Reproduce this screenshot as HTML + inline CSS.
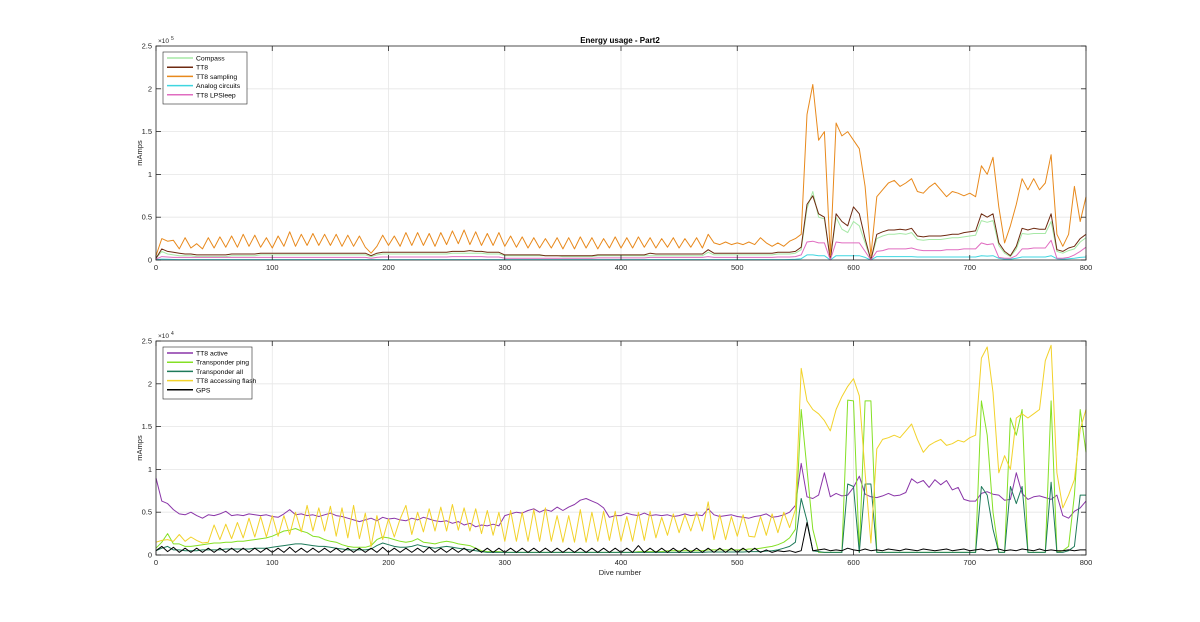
<!DOCTYPE html>
<html><head><meta charset="utf-8">
<style>
html,body{margin:0;padding:0;background:#fff;}
svg{display:block;font-family:"Liberation Sans",Arial,sans-serif;}
</style></head>
<body>
<svg id="fig" width="1200" height="622" viewBox="0 0 1200 622" xmlns="http://www.w3.org/2000/svg">
<rect x="0" y="0" width="1200" height="622" fill="#ffffff"/>
<text x="620" y="43" text-anchor="middle" font-size="8" font-weight="bold" fill="#000">Energy usage - Part2</text>
</svg>
<script>
const dives = [];
for (let d = 0; d <= 800; d += 5) dives.push(d);
const xTicks = [0,100,200,300,400,500,600,700,800];
const yTicks = [0,0.5,1,1.5,2,2.5];
const yTickLabels = ["0","0.5","1","1.5","2","2.5"];

// top panel, units of 1e4 mAmps
const compass = [0.2,1.0,0.7,0.6,0.5,0.5,0.5,0.4,0.4,0.4,
0.4,0.4,0.4,0.5,0.5,0.5,0.5,0.5,0.6,0.6,
0.6,0.6,0.6,0.6,0.6,0.6,0.6,0.6,0.6,0.6,
0.6,0.6,0.6,0.6,0.6,0.6,0.6,0.4,0.6,0.7,
0.7,0.7,0.7,0.7,0.7,0.7,0.7,0.7,0.7,0.7,
0.7,0.8,0.8,0.8,0.8,0.8,0.8,0.7,0.7,0.7,
0.5,0.5,0.5,0.5,0.5,0.5,0.5,0.5,0.5,0.5,
0.4,0.4,0.4,0.4,0.4,0.4,0.5,0.5,0.5,0.5,
0.5,0.5,0.5,0.5,0.5,0.5,0.5,0.5,0.5,0.5,
0.5,0.5,0.5,0.5,0.5,0.9,0.6,0.6,0.6,0.6,
0.6,0.6,0.6,0.6,0.6,0.6,0.6,0.7,0.7,0.7,
0.8,1.2,6,8,5,4.8,0,5,3.6,3.2,
4.5,4,2,0,2.5,2.8,3,3,3.1,3,
3.2,2.4,2.3,2.4,2.4,2.4,2.5,2.6,2.6,2.7,
2.8,2.9,4.6,4.4,4.6,1.7,0.8,0.4,1.3,3.1,
3,3.1,3.1,3.1,4.5,1,0.8,1.1,1.3,2.1,
2.6];
const tt8 = [0.2,1.3,1.0,0.9,0.8,0.7,0.7,0.6,0.6,0.6,
0.6,0.6,0.6,0.7,0.7,0.7,0.7,0.7,0.8,0.8,
0.8,0.8,0.8,0.8,0.8,0.8,0.8,0.8,0.8,0.8,
0.8,0.8,0.8,0.8,0.8,0.8,0.8,0.5,0.8,0.9,
0.9,0.9,0.9,0.9,0.9,0.9,0.9,0.9,0.9,0.9,
0.9,1.0,1.0,1.0,1.1,1.0,1.0,0.9,0.9,0.9,
0.6,0.6,0.6,0.6,0.6,0.6,0.6,0.5,0.5,0.5,
0.5,0.5,0.5,0.5,0.5,0.5,0.6,0.6,0.6,0.6,
0.6,0.6,0.6,0.6,0.6,0.8,0.7,0.7,0.7,0.7,
0.7,0.7,0.7,0.7,0.7,1.2,0.8,0.8,0.8,0.8,
0.8,0.8,0.8,0.8,0.8,0.8,0.8,0.9,0.9,0.9,
1.0,1.5,6.5,7.5,5.4,5,0,5.4,4.5,4,
6.2,5.4,2.5,0,3,3.3,3.5,3.5,3.6,3.5,
3.7,2.8,2.7,2.8,2.8,2.8,2.9,3,3,3.2,
3.3,3.4,5.4,5,5.4,2,1,0.5,1.6,3.7,
3.5,3.7,3.6,3.6,5.4,1.2,1,1.4,1.6,2.5,
3];
const tt8Sampling = [0.5,2.5,2.2,2.3,1.3,2.6,1.4,1.9,1.3,2.6,
1.4,2.7,1.5,2.8,1.5,3.0,1.6,2.9,1.5,2.6,
1.4,2.8,1.6,3.3,1.6,3.0,1.7,3.1,1.7,3.0,
1.7,3.0,1.6,2.9,1.6,2.8,1.5,0.8,1.6,2.9,
1.7,2.8,1.6,3.2,1.7,3.2,1.7,3.1,1.6,3.2,
1.8,3.4,1.9,3.5,1.8,3.3,1.7,3.1,1.7,3.2,
1.6,2.8,1.5,2.7,1.4,2.6,1.4,2.5,1.4,2.6,
1.3,2.6,1.3,2.7,1.4,2.6,1.3,2.5,1.4,2.7,
1.4,2.6,1.4,2.7,1.5,2.6,1.4,2.5,1.5,2.6,
1.4,2.5,1.5,2.6,1.4,3.0,2.0,1.8,2.1,1.8,
2.0,1.8,2.1,1.8,2.6,2.0,1.6,2.0,1.6,2.2,
2.5,3,17,20.5,14,15,0.5,16,14.5,15,
14,13,8.6,0.5,7.4,8.2,9,9.3,8.6,9,
9.5,8,7.8,8.5,9,8.2,7.4,8,7.8,7.5,
7.8,7.4,11,10,12,6.2,2,4,6.5,9.5,
8.2,9.5,8.2,9,12.3,3,1.6,3,8.6,4.5,
7.4];
const analog = [0.05,0.1,0.08,0.06,0.05,0.05,0.05,0.05,0.05,0.05,
0.05,0.05,0.05,0.05,0.05,0.05,0.05,0.05,0.05,0.05,
0.05,0.05,0.05,0.05,0.05,0.05,0.05,0.05,0.05,0.05,
0.05,0.05,0.05,0.05,0.05,0.05,0.05,0.05,0.05,0.05,
0.05,0.05,0.05,0.05,0.05,0.05,0.05,0.05,0.05,0.05,
0.05,0.05,0.05,0.05,0.05,0.05,0.05,0.05,0.05,0.05,
0.05,0.05,0.05,0.05,0.05,0.05,0.05,0.05,0.05,0.05,
0.05,0.05,0.05,0.05,0.05,0.05,0.05,0.05,0.05,0.05,
0.05,0.05,0.05,0.05,0.05,0.05,0.05,0.05,0.05,0.05,
0.05,0.05,0.05,0.05,0.05,0.05,0.05,0.05,0.05,0.05,
0.05,0.05,0.05,0.05,0.05,0.05,0.05,0.05,0.05,0.06,
0.08,0.15,0.6,0.6,0.5,0.5,0,0.5,0.5,0.5,
0.5,0.5,0.3,0,0.4,0.4,0.4,0.4,0.4,0.4,
0.4,0.35,0.35,0.35,0.35,0.35,0.35,0.35,0.35,0.35,
0.35,0.35,0.5,0.45,0.5,0.2,0.1,0.1,0.2,0.35,
0.35,0.35,0.35,0.35,0.5,0.15,0.1,0.15,0.2,0.3,
0.35];
const lpSleep = [0.1,0.4,0.35,0.3,0.3,0.3,0.3,0.3,0.3,0.3,
0.3,0.3,0.3,0.3,0.3,0.3,0.3,0.3,0.3,0.3,
0.3,0.3,0.3,0.3,0.3,0.3,0.3,0.3,0.3,0.3,
0.3,0.3,0.3,0.3,0.3,0.3,0.3,0.2,0.3,0.35,
0.35,0.35,0.35,0.35,0.35,0.35,0.35,0.35,0.35,0.35,
0.35,0.4,0.4,0.4,0.4,0.4,0.4,0.35,0.35,0.35,
0.2,0.2,0.2,0.2,0.2,0.2,0.2,0.2,0.2,0.2,
0.2,0.2,0.2,0.2,0.2,0.2,0.25,0.25,0.25,0.25,
0.25,0.25,0.25,0.25,0.25,0.3,0.3,0.3,0.3,0.3,
0.3,0.3,0.3,0.3,0.3,0.4,0.3,0.3,0.3,0.3,
0.3,0.3,0.3,0.3,0.3,0.3,0.3,0.35,0.35,0.35,
0.4,0.6,2.1,2.2,2,2,0,2.1,2,2,
2,2,1,0,1,1.1,1.3,1.3,1.3,1.3,
1.4,1.2,1.1,1.1,1.1,1.1,1.2,1.2,1.2,1.3,
1.3,1.3,2,1.8,1.9,0.3,0.2,0.2,0.5,1.3,
1.3,1.4,1.4,1.4,2.3,0.2,0.2,0.3,0.6,1,
1.5];

// bottom panel, units of 1e3 mAmps
const tt8Active = [9,6.3,6,5.3,4.8,4.7,5,4.6,4.3,4.7,
4.6,4.8,5.1,4.6,4.7,4.6,4.8,4.7,4.6,4.7,
4.5,4.4,4.8,5.3,4.7,4.8,4.6,4.7,4.5,4.7,
4.9,4.6,4.5,4.3,4.1,3.9,4.1,4.3,4.0,4.4,
4.2,4.3,4.1,4.0,4.3,4.1,4.4,4.2,4.0,3.9,
4.0,3.7,3.9,3.5,3.7,3.3,3.5,3.4,3.6,3.4,
4.6,4.8,5,4.9,5.2,5.4,5,5.3,5.1,5.6,
5.2,5.6,5.9,6.4,6.6,6.3,6.0,5.5,4.4,4.6,
4.6,4.9,4.7,4.6,4.9,4.6,4.7,4.6,4.7,4.5,
4.6,4.8,4.6,4.7,4.6,5.4,4.7,4.5,4.6,4.7,
4.5,4.4,4.3,4.5,4.6,4.8,4.4,4.5,4.7,5,
5.8,10.7,6.8,6.6,7,9.6,6.8,7.2,6.9,7,
7.9,9.2,7.1,6.8,6.7,6.9,7.2,6.9,7,7.3,
8.9,8.4,8.7,7.9,8.8,8.2,8.7,7.6,7.9,6.5,
6.3,6.3,7.2,7.4,7.1,7.0,6.4,6.5,9.6,7.2,
6.5,6.8,6.9,6.7,6.5,7.0,4.6,4.3,5.1,5.5,
6.3];
const transponderPing = [0.8,1.5,2.5,1.3,1.3,1.0,1.0,1.1,1.2,1.3,
1.4,1.4,1.5,1.5,1.6,1.6,1.7,1.8,1.9,2.0,
2.2,2.5,2.8,2.9,3.1,2.8,2.6,2.2,2.1,1.8,
1.6,1.5,1.2,1.0,0.9,0.9,0.9,1.1,1.8,2.1,
2.0,1.8,1.6,1.5,1.6,1.9,1.5,1.4,1.3,1.5,
1.6,1.5,1.3,1.2,1.1,0.8,0.5,0.4,0.4,0.4,
0.3,0.3,0.3,0.3,0.3,0.3,0.3,0.3,0.3,0.3,
0.3,0.3,0.3,0.3,0.3,0.3,0.3,0.3,0.3,0.3,
0.3,0.3,0.3,0.4,0.4,0.4,0.4,0.4,0.5,0.5,
0.5,0.5,0.5,0.5,0.5,0.6,0.6,0.6,0.6,0.6,
0.6,0.6,0.7,0.7,0.8,0.9,1,1.2,1.5,2,
3,17,10,3,0.3,0.3,0.3,0.3,0.3,18.1,
18,0.3,18,18,0.3,0.3,0.3,0.3,0.3,0.3,
0.3,0.3,0.3,0.3,0.3,0.3,0.3,0.3,0.3,0.3,
0.3,0.3,18,14,5,0.3,0.3,16,14,17,
0.3,0.3,0.3,0.3,18,0.3,0.5,1,7,17,
12];
const transponderAll = [0.5,0.8,1.0,0.6,0.6,0.5,0.5,0.5,0.6,0.6,
0.6,0.6,0.7,0.7,0.7,0.7,0.7,0.8,0.8,0.8,
0.9,1.0,1.1,1.2,1.3,1.3,1.2,1.1,1.0,1.0,
0.9,0.8,0.7,0.6,0.6,0.6,0.6,0.7,1.1,1.4,
1.2,1.0,0.9,0.9,1.0,1.2,1.0,0.9,0.8,0.9,
1.0,0.9,0.8,0.7,0.6,0.5,0.4,0.3,0.3,0.3,
0.3,0.3,0.3,0.3,0.3,0.3,0.3,0.3,0.3,0.3,
0.3,0.3,0.3,0.3,0.3,0.3,0.3,0.3,0.3,0.3,
0.3,0.3,0.3,0.3,0.3,0.3,0.3,0.3,0.3,0.3,
0.3,0.3,0.3,0.3,0.3,0.35,0.35,0.35,0.35,0.35,
0.35,0.35,0.4,0.4,0.4,0.45,0.5,0.6,0.8,1,
1.5,6.6,4,0.5,0.4,0.3,0.3,0.3,0.3,8.3,
8,0.3,8.3,8.3,0.3,0.3,0.3,0.3,0.3,0.3,
0.3,0.3,0.3,0.3,0.3,0.3,0.3,0.3,0.3,0.3,
0.3,0.3,8,7,3,0.3,0.3,8,6,8,
0.3,0.3,0.3,0.3,8.5,0.3,0.3,0.5,1,7,
7];
const accessingFlash = [1.5,1.7,1.8,1.6,2.4,1.6,2.1,1.7,1.4,1.5,
3.5,1.8,3.6,1.9,3.8,2.0,4.3,2.1,4.5,2.1,
4.6,2.2,4.6,2.4,5.0,2.7,5.8,2.8,5.5,2.8,
5.7,2.2,5.5,2.0,5.8,1.9,4.9,1.0,4.6,1.8,
4.2,2.1,4.2,5.8,2.4,5.0,2.7,5.4,2.8,5.6,
2.8,5.9,2.9,5.5,2.8,5.4,2.5,5.2,2.3,5.0,
1.6,5.2,1.6,5.0,1.6,5.3,1.6,5.5,1.6,4.6,
1.5,4.6,1.5,5.3,1.5,5.0,1.6,5.1,1.7,5.1,
1.6,4.5,1.6,5.0,1.7,5.1,2.0,4.4,2.3,4.8,
2.6,4.7,2.8,5.0,2.8,6.2,1.8,4.7,1.8,4.5,
2.2,4.7,2.2,2.1,4.5,2.3,4.8,2.6,5.0,3.2,
5.3,21.8,18,17,16.5,15.7,14.5,17,18.5,19.7,
20.6,18.6,9.6,1.4,12.4,13.5,13.7,14,13.7,14.5,
15.3,13.5,12,12.8,13.2,13.5,12.8,13,13.4,13.2,
13.7,14,23,24.3,19,9.6,11.6,10,16,16.5,
16,16.5,17,22.7,24.5,9.6,5.5,7,8.8,14.7,
17];
const gps = [0.5,1.0,0.4,0.9,0.3,0.8,0.3,0.8,0.3,0.8,
0.3,0.8,0.3,0.8,0.3,0.8,0.3,0.8,0.3,0.8,
0.3,0.8,0.3,0.9,0.3,0.8,0.3,0.8,0.3,0.8,
0.3,0.8,0.3,0.8,0.3,0.8,0.3,0.8,0.3,0.9,
0.3,0.8,0.3,0.8,0.3,0.8,0.3,0.9,0.3,0.8,
0.3,0.8,0.3,0.8,0.3,0.8,0.3,0.8,0.3,0.8,
0.3,0.8,0.3,0.8,0.3,0.8,0.3,0.8,0.3,0.8,
0.3,0.8,0.3,0.8,0.3,0.8,0.3,0.8,0.3,0.8,
0.3,0.8,0.3,1.1,0.3,0.8,0.3,0.8,0.3,0.8,
0.3,0.8,0.3,0.8,0.3,0.8,0.3,0.8,0.3,0.8,
0.3,0.8,0.3,0.8,0.3,0.6,0.3,0.5,0.4,0.5,
0.3,0.5,3.8,0.5,0.6,0.7,0.5,0.6,0.5,0.8,
0.6,0.5,0.7,0.5,0.6,0.5,0.7,0.6,0.5,0.7,
0.6,0.5,0.7,0.6,0.5,0.6,0.7,0.5,0.6,0.7,
0.5,0.6,0.7,0.5,0.6,0.7,0.5,0.6,0.5,0.7,
0.6,0.5,0.7,0.5,0.6,0.5,0.5,0.6,0.5,0.6,
0.6];

const NS = "http://www.w3.org/2000/svg";
const svg = document.getElementById('fig');
const X0 = 156, X1 = 1086;
function xs(d){ return X0 + (d/800)*(X1-X0); }
function mk(tag, attrs, parent){
  const e = document.createElementNS(NS, tag);
  for (const k in attrs) e.setAttribute(k, attrs[k]);
  (parent||svg).appendChild(e);
  return e;
}

function panel(cfg){
  const top = cfg.top, bot = cfg.bot;
  const ys = v => bot - (v/25)*(bot-top);
  const g = mk('g', {});
  
  
  // grid
  xTicks.forEach(t => {
    const l = mk('line', {x1:xs(t), x2:xs(t), y1:top, y2:bot, stroke:'#e6e6e6', 'stroke-width':0.8}, g);
    
    
  });
  yTicks.forEach(t => {
    const l = mk('line', {x1:X0, x2:X1, y1:ys(t*10), y2:ys(t*10), stroke:'#e6e6e6', 'stroke-width':0.8}, g);
    
    
  });
  // series
  cfg.series.forEach(s => {
    const pts = s.data.map((v,i) => xs(dives[i]).toFixed(1)+','+ys(v).toFixed(1)).join(' ');
    const p = mk('polyline', {points:pts, fill:'none', stroke:s.color, 'stroke-width':1, 'stroke-linejoin':'round'}, g);
    
    
  });
  // box
  const b = mk('rect', {x:X0, y:top, width:X1-X0, height:bot-top, fill:'none', stroke:'#262626', 'stroke-width':0.8}, g);
  
  
  // ticks
  xTicks.forEach(t => {
    mk('line', {x1:xs(t), x2:xs(t), y1:bot, y2:bot-5, stroke:'#262626', 'stroke-width':0.8}, g);
    mk('line', {x1:xs(t), x2:xs(t), y1:top, y2:top+5, stroke:'#262626', 'stroke-width':0.8}, g);
    const tx = mk('text', {x:xs(t), y:bot+10, 'text-anchor':'middle', 'font-size':7.5, fill:'#262626'}, g);
    tx.textContent = String(t);
    
    
  });
  yTicks.forEach((t,i) => {
    mk('line', {x1:X0, x2:X0+5, y1:ys(t*10), y2:ys(t*10), stroke:'#262626', 'stroke-width':0.8}, g);
    mk('line', {x1:X1, x2:X1-5, y1:ys(t*10), y2:ys(t*10), stroke:'#262626', 'stroke-width':0.8}, g);
    const tx = mk('text', {x:X0-4, y:ys(t*10)+2.5, 'text-anchor':'end', 'font-size':7.5, fill:'#262626'}, g);
    tx.textContent = yTickLabels[i];
    
    
  });
  // exponent
  const ex = mk('text', {x:X0+2, y:top-3, 'font-size':6.5, fill:'#262626'}, g);
  ex.textContent = '×10';
  
  
  const ex2 = mk('text', {x:X0+15, y:top-6, 'font-size':5, fill:'#262626'}, g);
  ex2.textContent = cfg.exp;
  
  
  // ylabel
  const yl = mk('text', {x:0, y:0, 'text-anchor':'middle', 'font-size':7.5, fill:'#262626', transform:'translate(142,'+((top+bot)/2)+') rotate(-90)'}, g);
  yl.textContent = 'mAmps';
  
  
  // legend
  const lg = mk('g', {}, g);
  
  
  mk('rect', {x:163, y:top+6, width:cfg.legW, height:cfg.series.length*9.2+6, fill:'#fff', stroke:'#262626', 'stroke-width':0.6}, lg);
  cfg.series.forEach((s,i) => {
    const yy = top + 12 + i*9.2;
    const e = mk('g', {}, lg);
    
    
    mk('line', {x1:167, x2:193, y1:yy, y2:yy, stroke:s.color, 'stroke-width':1.5}, e);
    const t = mk('text', {x:196, y:yy+2.5, 'font-size':6.8, fill:'#000'}, e);
    t.textContent = s.label;
  });
}

panel({name:'top-panel', top:46, bot:260, exp:'5', legW:84, series:[
  {id:'compass', label:'Compass', color:'#a6e8a6', data:compass},
  {id:'tt8', label:'TT8', color:'#6e2a10', data:tt8},
  {id:'tt8-sampling', label:'TT8 sampling', color:'#e8891c', data:tt8Sampling},
  {id:'analog-circuits', label:'Analog circuits', color:'#3fd6e0', data:analog},
  {id:'tt8-lpsleep', label:'TT8 LPSleep', color:'#e06cc0', data:lpSleep}
]});
panel({name:'bottom-panel', top:341, bot:555, exp:'4', legW:89, series:[
  {id:'tt8-active', label:'TT8 active', color:'#8a35a8', data:tt8Active},
  {id:'transponder-ping', label:'Transponder ping', color:'#84e024', data:transponderPing},
  {id:'transponder-all', label:'Transponder all', color:'#1e7a5a', data:transponderAll},
  {id:'tt8-accessing-flash', label:'TT8 accessing flash', color:'#f2d22a', data:accessingFlash},
  {id:'gps', label:'GPS', color:'#000000', data:gps}
]});
const xl = mk('text', {x:620, y:575, 'text-anchor':'middle', 'font-size':7.5, fill:'#262626'});
xl.textContent = 'Dive number';


</script>
</body></html>
